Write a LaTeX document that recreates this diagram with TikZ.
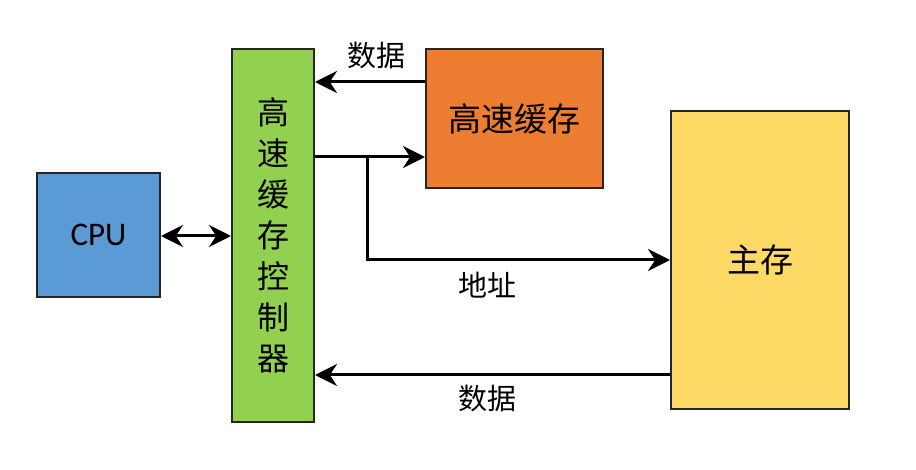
\documentclass[tikz,border=0pt]{standalone}
\usepackage{fontspec}
\setmainfont{Carlito}
\newfontfamily\cjk{Noto Sans CJK SC}
\usetikzlibrary{arrows.meta}
\definecolor{cpublue}{HTML}{5B9BD5}
\definecolor{ctrlgreen}{HTML}{92D050}
\definecolor{cacheorange}{HTML}{ED7D31}
\definecolor{memyellow}{HTML}{FFD966}
\tikzset{
  box/.style={draw=black!85,line width=2pt,inner sep=0pt,font=\fontsize{33}{40}\selectfont\cjk},
  link/.style={line width=3pt,-{Stealth[length=22pt,width=22pt]}},
  tag/.style={font=\fontsize{29}{30}\selectfont\cjk,inner sep=0pt}
}
\begin{document}
\begin{tikzpicture}[x=1pt,y=-1pt]
  \useasboundingbox (0,0) rectangle (916,470);

  \node[box,fill=cpublue,minimum width=123pt,minimum height=124pt,font=\fontsize{33}{36}\selectfont] (cpu) at (98.5,235) {CPU};
  \node[box,fill=ctrlgreen,minimum width=82pt,minimum height=373pt,align=center,font=\fontsize{32}{41}\selectfont\cjk] (ctrl) at (273,235.5) {高\\速\\缓\\存\\控\\制\\器};
  \node[box,fill=cacheorange,minimum width=177pt,minimum height=139pt] (cache) at (514.5,118.5) {高速缓存};
  \node[box,fill=memyellow,minimum width=178pt,minimum height=298pt] (mem) at (760,260) {主存};

  \coordinate (fork) at (367,157);

  \draw[link,{Stealth[length=22pt,width=22pt]}-{Stealth[length=22pt,width=22pt]}] (cpu.east |- 0,236) -- (ctrl.west |- 0,236);
  \draw[link] (cache.west |- 0,82) -- (ctrl.east |- 0,82);
  \draw[link] (ctrl.east |- fork) -- (cache.west |- fork);
  \draw[link] (fork) |- (mem.west);
  \draw[link] (mem.west |- 0,375) -- (ctrl.east |- 0,375);

  \node[tag] (top data) at (376,56) {数据};
  \node[tag] (addr) at (487,285) {地址};
  \node[tag] (low data) at (487,399) {数据};
\end{tikzpicture}
\end{document}
